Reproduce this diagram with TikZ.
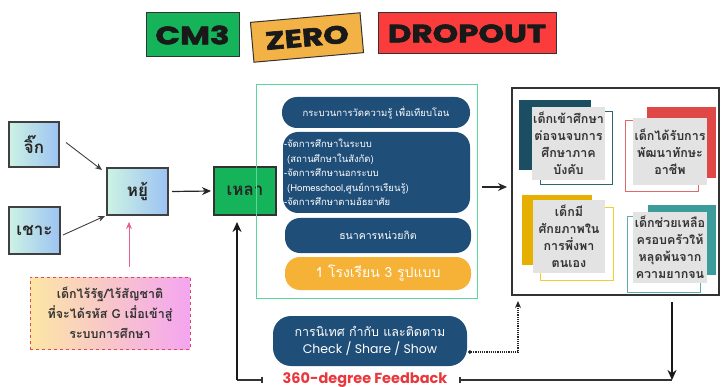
\documentclass[tikz,border=0pt]{standalone}
\usepackage{fontspec}
\setmainfont[Script=Thai]{Loma}
\newfontfamily\thai[Script=Thai]{Loma}
\newfontfamily\popp{Poppins}
\newfontfamily\titlefont[FakeStretch=1.3,FakeBold=2.5]{Poppins}
\usetikzlibrary{arrows.meta,calc}
\definecolor{cmgreen}{RGB}{22,180,90}
\definecolor{cmorange}{RGB}{243,178,70}
\definecolor{cmred}{RGB}{250,60,60}
\definecolor{lgreen}{RGB}{205,242,228}
\definecolor{lblue}{RGB}{156,195,242}
\definecolor{pinkl}{RGB}{252,230,165}
\definecolor{pinkr}{RGB}{244,165,240}
\definecolor{pinkline}{RGB}{225,70,90}
\definecolor{pinkarrow}{RGB}{232,96,138}
\definecolor{gline}{RGB}{92,214,154}
\definecolor{pillblue}{RGB}{31,78,121}
\definecolor{pillorange}{RGB}{245,178,54}
\definecolor{idark}{RGB}{27,77,99}
\definecolor{idarkl}{RGB}{46,102,118}
\definecolor{ired}{RGB}{224,72,72}
\definecolor{iredl}{RGB}{224,106,106}
\definecolor{igold}{RGB}{230,176,0}
\definecolor{igoldl}{RGB}{240,206,48}
\definecolor{iteal}{RGB}{60,156,156}
\definecolor{iteall}{RGB}{90,176,176}
\definecolor{igray}{RGB}{227,227,227}
\definecolor{fbred}{RGB}{232,56,61}
\begin{document}
\begin{tikzpicture}[x=1pt,y=-1pt,
  every node/.style={inner sep=0pt, outer sep=0pt},
  titlebox/.style={draw=black!80, line width=1pt, font=\titlefont\bfseries\fontsize{25}{25}\selectfont, text=black!90},
  lbox/.style={draw=black!75, line width=1.2pt, left color=lgreen, right color=lblue, font=\thai\bfseries\fontsize{17}{17}\selectfont, text=black!85},
  pill/.style={fill=pillblue, rounded corners=15pt, text=white, font=\thai\fontsize{9.5}{15}\selectfont},
  graybox/.style={fill=igray, align=center, text=black!80, font=\thai\bfseries\fontsize{12.5}{17}\selectfont},
  conn/.style={-{Stealth[length=9pt,width=8pt]}, line width=1.2pt, black!85},
  thinconn/.style={-{Stealth[length=7pt,width=6pt]}, line width=0.9pt, black!75},
]
\useasboundingbox (0,0) rectangle (722,387);
% titles
\node[titlebox, fill=cmgreen, minimum width=93, minimum height=44] (cm) at (192.5,35) {CM3};
\node[titlebox, fill=cmorange, minimum width=110, minimum height=40, rotate=5] (zero) at (307,37.5) {ZERO};
\node[titlebox, fill=cmred, minimum width=178, minimum height=41] (drop) at (467,33.5) {DROPOUT};
% left boxes
\node[lbox, minimum width=50, minimum height=45] (jik) at (34,144.5) {จิ๊ก};
\node[lbox, minimum width=51, minimum height=47] (chao) at (34.5,230.5) {เชาะ};
\node[lbox, minimum width=61, minimum height=47] (yu) at (137.5,191.5) {หยู้};
\node[draw=black!80, line width=1.2pt, fill=cmgreen, minimum width=62, minimum height=48, font=\thai\bfseries\fontsize{17}{17}\selectfont, text=black!85] (lao) at (245,191) {เหลา};
\node[draw=pinkline, dashed, line width=0.9pt, left color=pinkl, right color=pinkr, minimum width=160, minimum height=72, align=center, font=\thai\bfseries\fontsize{12.5}{20}\selectfont, text=black!80] (pink) at (110,313) {เด็กไร้รัฐ/ไร้สัญชาติ\\ที่จะได้รหัส G เมื่อเข้าสู่\\ระบบการศึกษา};
\draw[thinconn] ($(jik.east)+(7,-2)$) -- ($(yu.north west)+(-5,2)$);
\draw[thinconn] ($(chao.east)+(3,4.5)$) -- ($(yu.south west)+(-2,1)$);
\draw[conn] ($(yu.east)+(4,0)$) -- ($(lao.west)+(-3,0)$);
\draw[-{Stealth[length=7pt,width=6pt]}, line width=0.9pt, pinkarrow] ($(pink.north)+(19,-10)$) -- ($(yu.south)+(-8.5,7)$);
% green frame
\node[draw=gline, line width=1pt, minimum width=221, minimum height=213] (gbox) at (366.5,191.5) {};
\node[pill, minimum width=188, minimum height=31] (p1) at (376,112.5) {กระบวนการวัดความรู้ เพื่อเทียบโอน};
\node[pill, minimum width=187, minimum height=81] (p2) at (376.5,172.5) {};
\node[anchor=west, align=left, text=white, font=\thai\fontsize{9.5}{14.5}\selectfont] (p2t) at (284,172.5) {-จัดการศึกษาในระบบ\\\ (สถานศึกษาในสังกัด)\\-จัดการศึกษานอกระบบ\\\ (Homeschool,ศูนย์การเรียนรู้)\\-จัดการศึกษาตามอัธยาศัย};
\node[pill, minimum width=186, minimum height=35, font=\thai\fontsize{10.5}{12}\selectfont] (p3) at (378,235.5) {ธนาคารหน่วยกิต};
\node[pill, fill=pillorange, minimum width=186, minimum height=33, font=\thai\fontsize{14}{14}\selectfont] (p4) at (378,273.5) {1 โรงเรียน 3 รูปแบบ};
% right frame
\node[draw=black!80, line width=1.3pt, minimum width=207, minimum height=207] (rbox) at (615.5,191.5) {};
\draw[conn] ($(gbox.east)+(5,-4.5)$) -- ($(rbox.west)+(-5,-4.5)$);
% item 1
\fill[idark] (519,100) rectangle (591,170);
\draw[idarkl, line width=1pt] (540,112) rectangle (612,185);
\node[graybox, minimum width=73, minimum height=73] (i1) at (568.5,143.5) {เด็กเข้าศึกษา\\ต่อจนจบการ\\ศึกษาภาค\\บังคับ};
% item 2
\fill[ired] (647,107) rectangle (716,178);
\draw[iredl, line width=1pt] (625,121) rectangle (698,192);
\node[graybox, minimum width=74, minimum height=67] (i2) at (670,151.5) {เด็กได้รับการ\\พัฒนาทักษะ\\อาชีพ};
% item 3
\fill[igold] (522,195) rectangle (592,265);
\draw[igoldl, line width=1pt] (540,208) rectangle (613,280);
\node[graybox, minimum width=72, minimum height=73] (i3) at (569,236.5) {เด็กมี\\ศักยภาพใน\\การพึ่งพา\\ตนเอง};
% item 4
\fill[iteal] (648,205) rectangle (716,275);
\draw[iteall, line width=1pt] (627,217) rectangle (700,292);
\node[graybox, minimum width=74, minimum height=71] (i4) at (670,247.5) {เด็กช่วยเหลือ\\ครอบครัวให้\\หลุดพ้นจาก\\ความยากจน};
% bottom pill
\node[pill, minimum width=194, minimum height=50, rounded corners=18pt, align=center, font=\popp\fontsize{12.5}{17}\selectfont] (bp) at (370,341) {{\thai การนิเทศ กำกับ และติดตาม}\\Check / Share / Show};
\draw[densely dotted, line width=1.2pt, black!85, {Circle[length=3.5pt]}-{Stealth[length=7pt,width=6pt]}] ($(bp.east)+(1,11)$) -| ($(rbox.south west)+(6,6)$);
% feedback loop
\node[font=\popp\bfseries\fontsize{14.5}{14.5}\selectfont, text=fbred] (fb) at (365,380) {360-degree Feedback};
\coordinate (fbR) at ($(rbox.south west)+(160,85)$);
\draw[-{Stealth[length=10pt,width=9pt]}, line width=2pt, black!90] ($(rbox.south west)+(160,7)$) -- (fbR);
\draw[line width=1.3pt, black!80, {Bar[width=6pt]}-] ($(fb.east)+(12,0)$) -- (fbR);
\coordinate (fbL) at ($(lao.south)+(-8,165)$);
\draw[line width=1.3pt, black!80, {Bar[width=6pt]}-] ($(fb.west)+(-20,0)$) -- (fbL);
\draw[-{Stealth[length=10pt,width=9pt]}, line width=2pt, black!90] (fbL) -- ($(lao.south)+(-8,7)$);
\end{tikzpicture}
\end{document}
